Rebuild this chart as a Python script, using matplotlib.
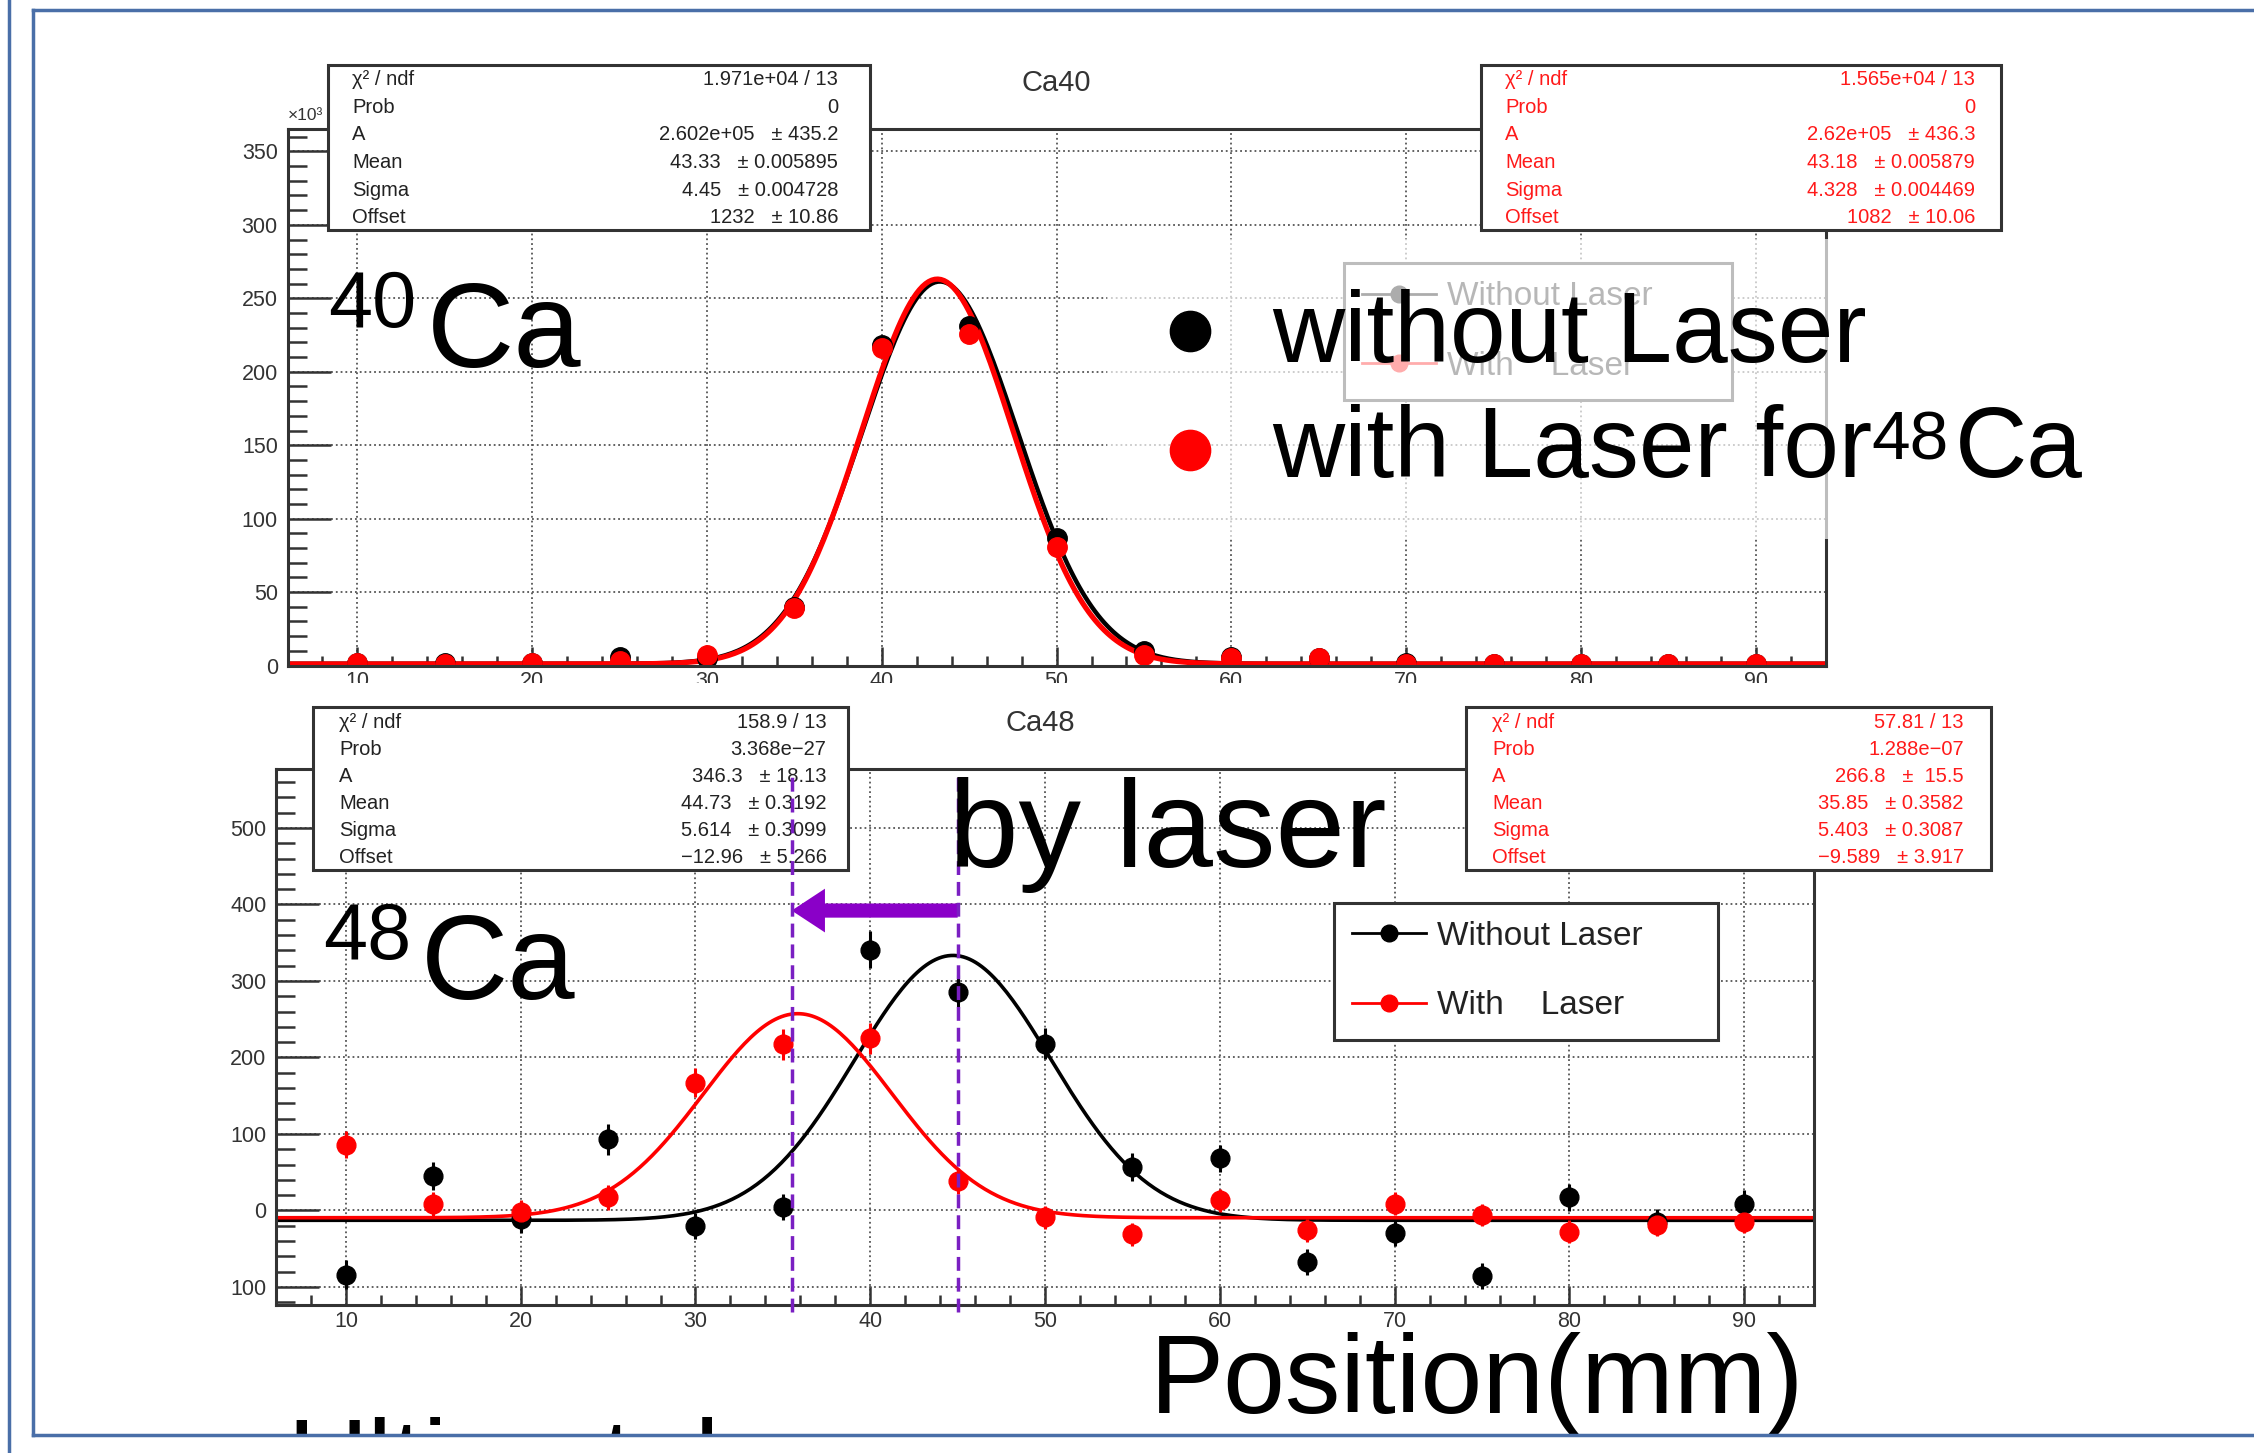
import numpy as np
import matplotlib.pyplot as plt
from matplotlib.patches import Rectangle
from matplotlib.lines import Line2D
from matplotlib.ticker import MultipleLocator

plt.rcParams['font.family'] = ['Liberation Sans', 'DejaVu Sans']

W, H = 2254, 1453
S = W / 1568  # positions below were measured on a 1568 px wide view


def fx(x):
    return x * S / W


def fy(y):
    return 1 - y * S / H


# ---- data -------------------------------------------------------------
pos = [10, 15, 20, 25, 30, 35, 40, 45, 50, 55, 60, 65, 70, 75, 80, 85, 90]

# Ca40, counts x10^3
ca40_without = [1.5, 1.5, 1.5, 6, 5, 40, 218, 231, 87, 10, 6, 5, 2, 1, 1, 1, 1]
ca40_with = [1.5, 1, 1.5, 3, 7, 39, 216, 226, 81, 7, 5, 5, 1, 1, 1, 1, 1]

# Ca48
ca48_without = [-84, 45, -11, 93, -20, 4, 341, 286, 218, 57, 68, -67, -29, -86, 17, -15, 9]
ca48_without_err = [19, 18, 18, 20, 17, 17, 24, 22, 20, 18, 18, 17, 17, 17, 18, 17, 18]
ca48_with = [86, 8, -2, 17, 167, 217, 225, 38, -9, -31, 13, -26, 9, -6, -28, -19, -15]
ca48_with_err = [18, 16, 16, 16, 19, 20, 20, 17, 15, 15, 15, 15, 15, 15, 15, 15, 15]

# gaussian fits (A, Mean, Sigma, Offset) from the stat boxes
fit40_without = [2.602e5, 43.33, 4.45, 1232]
fit40_with = [2.62e5, 43.18, 4.328, 1082]
fit48_without = [346.3, 44.73, 5.614, -12.96]
fit48_with = [266.8, 35.85, 5.403, -9.589]

stat_labels = ["χ² / ndf", "Prob", "A", "Mean", "Sigma", "Offset"]
stats40_without = ["1.971e+04 / 13", "0", "2.602e+05   ± 435.2",
                   "43.33   ± 0.005895", "4.45   ± 0.004728", "1232   ± 10.86"]
stats40_with = ["1.565e+04 / 13", "0", "2.62e+05   ± 436.3",
                "43.18   ± 0.005879", "4.328   ± 0.004469", "1082   ± 10.06"]
stats48_without = ["158.9 / 13", "3.368e−27", "346.3   ± 18.13",
                   "44.73   ± 0.3192", "5.614   ± 0.3099", "−12.96   ± 5.266"]
stats48_with = ["57.81 / 13", "1.288e−07", "266.8   ±  15.5",
                "35.85   ± 0.3582", "5.403   ± 0.3087", "−9.589   ± 3.917"]

ca48_yticks = [-100, 0, 100, 200, 300, 400, 500]
ca48_ylabels = ["100", "0", "100", "200", "300", "400", "500"]
shift_marks = [35.5, 45.0]
arrow_y = 392

xs = np.linspace(6, 94, 500)


def gaus(p):
    return p[0] * np.exp(-0.5 * ((xs - p[1]) / p[2]) ** 2) + p[3]


fig = plt.figure(figsize=(W / 100, H / 100), dpi=100)


def style(ax, ymaj, ymin):
    ax.set_xlim(6, 94)
    ax.xaxis.set_major_locator(MultipleLocator(10))
    ax.xaxis.set_minor_locator(MultipleLocator(2))
    ax.yaxis.set_major_locator(MultipleLocator(ymaj))
    ax.yaxis.set_minor_locator(MultipleLocator(ymin))
    ax.tick_params(which='both', direction='in', top=False, right=False,
                   colors='#333', labelsize=15.5, width=1.8)
    ax.tick_params(axis='x', which='major', length=14, pad=4)
    ax.tick_params(axis='x', which='minor', length=7)
    ax.tick_params(axis='y', which='major', length=31, pad=7)
    ax.tick_params(axis='y', which='minor', length=14)
    ax.grid(True, which='major', ls=':', color='#555', lw=1.3)
    ax.set_axisbelow(True)
    for sp in ax.spines.values():
        sp.set_linewidth(2.2)
        sp.set_color('#333')


# ---- Ca40 ---------------------------------------------------------------
ax1 = fig.add_axes([fx(200), fy(463), fx(1270) - fx(200), fy(90) - fy(463)])
style(ax1, 50, 10)
ax1.set_ylim(0, 365)
ax1.plot(xs, gaus(fit40_without) / 1000, color='black', lw=3.2)
ax1.plot(xs, gaus(fit40_with) / 1000, color='red', lw=3.8)
ax1.plot(pos, ca40_without, 'o', color='black', ms=14)
ax1.plot(pos, ca40_with, 'o', color='red', ms=14)

h_without = Line2D([], [], color='black', marker='o', ms=12, lw=2)
h_with = Line2D([], [], color='red', marker='o', ms=12, lw=2)


def root_legend(ax, box):
    x0, y0, x1, y1 = box
    leg = ax.legend([h_without, h_with], ["Without Laser", "With    Laser"],
                    loc='upper left', mode='expand',
                    bbox_to_anchor=(fx(x0), fy(y1), fx(x1) - fx(x0), fy(y0) - fy(y1)),
                    bbox_transform=fig.transFigure, fontsize=24, fancybox=False,
                    framealpha=1, edgecolor='#333', borderpad=0.55, labelspacing=1.15,
                    handlelength=2.2, handletextpad=0.35, borderaxespad=0)
    leg.get_frame().set_linewidth(2.2)
    for t in leg.get_texts():
        t.set_color('#222')
    return leg


root_legend(ax1, (935, 183, 1205, 275))

# ---- Ca48 ---------------------------------------------------------------
ax2 = fig.add_axes([fx(192), fy(908), fx(1262) - fx(192), fy(535) - fy(908)])
style(ax2, 100, 20)
ax2.set_ylim(-124, 577)
ax2.set_yticks(ca48_yticks)
ax2.set_yticklabels(ca48_ylabels)
ax2.plot(xs, gaus(fit48_without), color='black', lw=2.6)
ax2.plot(xs, gaus(fit48_with), color='red', lw=2.6)
ax2.errorbar(pos, ca48_without, yerr=ca48_without_err, fmt='o', color='black',
             ms=13.5, elinewidth=2.2, capsize=0)
ax2.errorbar(pos, ca48_with, yerr=ca48_with_err, fmt='o', color='red',
             ms=13.5, elinewidth=2.2, capsize=0)
root_legend(ax2, (928, 628, 1195, 722))

ax2.annotate('', xy=(shift_marks[0], arrow_y), xytext=(shift_marks[1], arrow_y),
             arrowprops=dict(arrowstyle='simple,head_length=0.8,head_width=1.05,tail_width=0.34',
                             mutation_scale=30, color='#8a00c8', lw=0,
                             shrinkA=0, shrinkB=0))

# ---- overlays -----------------------------------------------------------
# top-plot x labels are cut by the lower pad
fig.add_artist(Rectangle((fx(150), fy(490)), fx(1290) - fx(150), fy(475) - fy(490),
                         transform=fig.transFigure, fc='white', ec='none', zorder=1))
# half transparent text box on the Ca40 plot
fig.add_artist(Rectangle((fx(770), fy(375)), fx(1275) - fx(770), fy(166) - fy(375),
                         transform=fig.transFigure, fc='white', ec='none', alpha=0.68, zorder=1))

fig.text(fx(200), fy(80), "×10³", fontsize=12.5, color='#333', va='center', zorder=2)
fig.text(fx(735), fy(58), "Ca40", fontsize=21, color='#333', ha='center', va='center')
fig.text(fx(724), fy(503), "Ca48", fontsize=21, color='#333', ha='center', va='center')


def stats_box(box, rows, xl, xe, color):
    x0, y0, x1, y1 = box
    fig.add_artist(Rectangle((fx(x0), fy(y1)), fx(x1) - fx(x0), fy(y0) - fy(y1),
                             transform=fig.transFigure, fc='white', ec='#333',
                             lw=2.2, zorder=3))
    step = (y1 - y0) / 6
    for i, (lab, val) in enumerate(zip(stat_labels, rows)):
        yc = y0 + (i + 0.55) * step
        fig.text(fx(xl), fy(yc), lab, fontsize=14.5, color=color, va='center', zorder=4)
        fig.text(fx(xe), fy(yc), val, fontsize=14.5, color=color, ha='right',
                 va='center', zorder=4)


stats_box((228, 45, 605, 160), stats40_without, 245, 583, '#222')
stats_box((1030, 45, 1392, 160), stats40_with, 1047, 1374, '#ff1a1a')
stats_box((218, 492, 590, 605), stats48_without, 236, 575, '#222')
stats_box((1020, 492, 1385, 605), stats48_with, 1038, 1366, '#ff1a1a')

# dashed markers of the two peak positions
for xv in shift_marks:
    fig.add_artist(Line2D([xv, xv], [-133, 572], transform=ax2.transData,
                          color='#7a1fc2', lw=2.5, ls=(0, (4, 2)), zorder=5))

# slide text
fig.text(fx(228), fy(187), "40", fontsize=57, va='top', zorder=6)
fig.text(fx(297), fy(255), "Ca", fontsize=87, va='baseline', zorder=6)
fig.text(fx(225), fy(627), "48", fontsize=57, va='top', zorder=6)
fig.text(fx(293), fy(695), "Ca", fontsize=87, va='baseline', zorder=6)

fig.add_artist(Line2D([fx(828)], [fy(230)], transform=fig.transFigure, marker='o',
                      ms=29, color='black', ls='none', zorder=6))
fig.add_artist(Line2D([fx(828)], [fy(313)], transform=fig.transFigure, marker='o',
                      ms=29, color='red', ls='none', zorder=6))
fig.text(fx(885), fy(252), "without Laser", fontsize=72, va='baseline', zorder=6)
fig.text(fx(885), fy(332), "with Laser for", fontsize=72, va='baseline', zorder=6)
fig.text(fx(1302), fy(285), "48", fontsize=50, va='top', zorder=6)
fig.text(fx(1360), fy(332), "Ca", fontsize=72, va='baseline', zorder=6)

fig.text(fx(660), fy(603), "by laser", fontsize=90, va='baseline', zorder=6)
fig.text(fx(800), fy(983), "Position(mm)", fontsize=80, va='baseline', zorder=6)

# text of the next slide line, cut by the frame
cut = fig.text(fx(200), fy(985), "Ultimately", fontsize=80, va='top', zorder=6)
cut.set_clip_path(Rectangle((fx(195), fy(998)), fx(670) - fx(195), fy(986) - fy(998),
                            transform=fig.transFigure))

# slide frame
blue = '#4a6fa8'
fig.add_artist(Line2D([fx(6.3), fx(6.3)], [0, 1], color=blue, lw=2.5, zorder=7))
fig.add_artist(Line2D([fx(23), fx(23)], [fy(998), fy(7)], color=blue, lw=2.5, zorder=7))
fig.add_artist(Line2D([fx(23), 1], [fy(7), fy(7)], color=blue, lw=2.5, zorder=7))
fig.add_artist(Line2D([fx(23), 1], [fy(998), fy(998)], color=blue, lw=2.5, zorder=7))

fig.savefig('out.png', dpi=100)
